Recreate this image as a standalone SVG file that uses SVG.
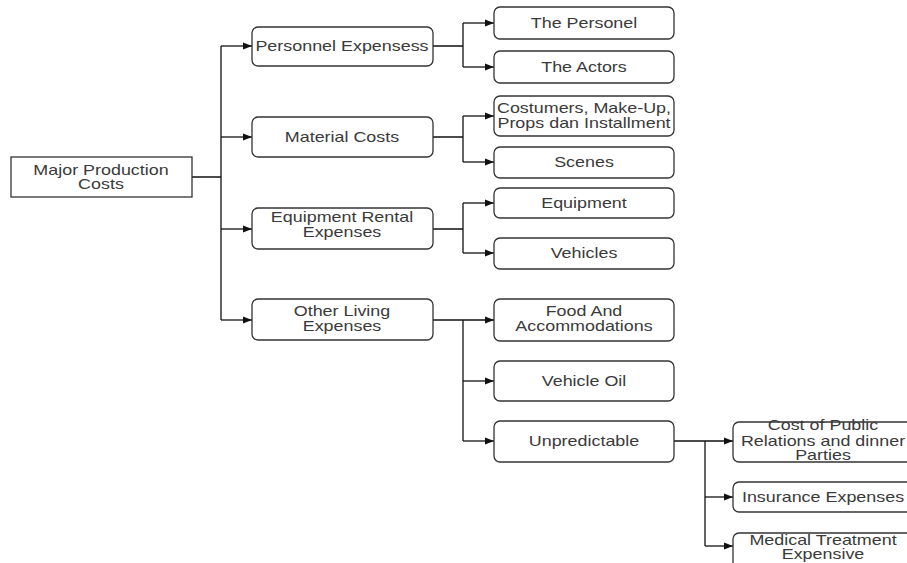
<svg xmlns="http://www.w3.org/2000/svg" width="907" height="563" viewBox="0 0 907 563">
<style>
.box{fill:#fff;stroke:#333;stroke-width:1.3}
.ln{fill:none;stroke:#111;stroke-width:1.3}
text{font-family:"Liberation Sans",Arial,sans-serif;font-size:14px;fill:#3a3a3a;text-anchor:middle}
</style>
<defs>
<marker id="ah" markerUnits="userSpaceOnUse" markerWidth="10" markerHeight="8" refX="9" refY="4" orient="auto">
<path d="M0,0.5 L9,4 L0,7.5 Z" fill="#111"/>
</marker>
</defs>
<g id="connectors">
<path class="ln" d="M192,177 H221 M221,46 V320"/>
<path class="ln" marker-end="url(#ah)" d="M221,46 H252"/>
<path class="ln" marker-end="url(#ah)" d="M221,137 H252"/>
<path class="ln" marker-end="url(#ah)" d="M221,229 H252"/>
<path class="ln" marker-end="url(#ah)" d="M221,320 H252"/>
<path class="ln" d="M433,46 H463 M463,23 V67"/>
<path class="ln" marker-end="url(#ah)" d="M463,23 H494"/>
<path class="ln" marker-end="url(#ah)" d="M463,67 H494"/>
<path class="ln" d="M433,137 H463 M463,116 V162"/>
<path class="ln" marker-end="url(#ah)" d="M463,116 H494"/>
<path class="ln" marker-end="url(#ah)" d="M463,162 H494"/>
<path class="ln" d="M433,229 H463 M463,203 V253"/>
<path class="ln" marker-end="url(#ah)" d="M463,203 H494"/>
<path class="ln" marker-end="url(#ah)" d="M463,253 H494"/>
<path class="ln" d="M463,320 V441"/>
<path class="ln" marker-end="url(#ah)" d="M433,320 H494"/>
<path class="ln" marker-end="url(#ah)" d="M463,381 H494"/>
<path class="ln" marker-end="url(#ah)" d="M463,441 H494"/>
<path class="ln" d="M705,441 V546"/>
<path class="ln" marker-end="url(#ah)" d="M674,441 H733"/>
<path class="ln" marker-end="url(#ah)" d="M705,497 H733"/>
<path class="ln" marker-end="url(#ah)" d="M705,546 H733"/>
</g>
<g id="major">
<rect class="box" x="11" y="157" width="181" height="40"/>
<text transform="translate(101,0) scale(1.28 1)" x="0" y="175">Major Production</text>
<text transform="translate(101,0) scale(1.28 1)" x="0" y="189">Costs</text>
</g>
<g id="personnel">
<rect class="box" x="252" y="27" width="181" height="39" rx="6"/>
<text transform="translate(342,0) scale(1.28 1)" x="0" y="51">Personnel Expensess</text>
</g>
<g id="material">
<rect class="box" x="252" y="117" width="181" height="40" rx="6"/>
<text transform="translate(342,0) scale(1.28 1)" x="0" y="142">Material Costs</text>
</g>
<g id="equiprental">
<rect class="box" x="252" y="208" width="181" height="41" rx="6"/>
<text transform="translate(342,0) scale(1.28 1)" x="0" y="222">Equipment Rental</text>
<text transform="translate(342,0) scale(1.28 1)" x="0" y="237">Expenses</text>
</g>
<g id="otherliving">
<rect class="box" x="252" y="299" width="181" height="41" rx="6"/>
<text transform="translate(342,0) scale(1.28 1)" x="0" y="316">Other Living</text>
<text transform="translate(342,0) scale(1.28 1)" x="0" y="331">Expenses</text>
</g>
<g id="personel">
<rect class="box" x="494" y="7" width="180" height="32" rx="6"/>
<text transform="translate(584,0) scale(1.28 1)" x="0" y="28">The Personel</text>
</g>
<g id="actors">
<rect class="box" x="494" y="51" width="180" height="32" rx="6"/>
<text transform="translate(584,0) scale(1.28 1)" x="0" y="72">The Actors</text>
</g>
<g id="costumers">
<rect class="box" x="494" y="96" width="180" height="40" rx="6"/>
<text transform="translate(584,0) scale(1.28 1)" x="0" y="113">Costumers, Make-Up,</text>
<text transform="translate(584,0) scale(1.28 1)" x="0" y="128">Props dan Installment</text>
</g>
<g id="scenes">
<rect class="box" x="494" y="147" width="180" height="31" rx="6"/>
<text transform="translate(584,0) scale(1.28 1)" x="0" y="167">Scenes</text>
</g>
<g id="equipment">
<rect class="box" x="494" y="188" width="180" height="30" rx="6"/>
<text transform="translate(584,0) scale(1.28 1)" x="0" y="208">Equipment</text>
</g>
<g id="vehicles">
<rect class="box" x="494" y="238" width="180" height="31" rx="6"/>
<text transform="translate(584,0) scale(1.28 1)" x="0" y="258">Vehicles</text>
</g>
<g id="food">
<rect class="box" x="494" y="299" width="180" height="42" rx="6"/>
<text transform="translate(584,0) scale(1.28 1)" x="0" y="316">Food And</text>
<text transform="translate(584,0) scale(1.28 1)" x="0" y="331">Accommodations</text>
</g>
<g id="vehicleoil">
<rect class="box" x="494" y="361" width="180" height="40" rx="6"/>
<text transform="translate(584,0) scale(1.28 1)" x="0" y="386">Vehicle Oil</text>
</g>
<g id="unpredictable">
<rect class="box" x="494" y="421" width="180" height="41" rx="6"/>
<text transform="translate(584,0) scale(1.28 1)" x="0" y="446">Unpredictable</text>
</g>
<g id="publicrelations">
<rect class="box" x="733" y="422" width="180" height="40" rx="6"/>
<text transform="translate(823,0) scale(1.28 1)" x="0" y="430">Cost of Public</text>
<text transform="translate(823,0) scale(1.28 1)" x="0" y="446">Relations and dinner</text>
<text transform="translate(823,0) scale(1.28 1)" x="0" y="460">Parties</text>
</g>
<g id="insurance">
<rect class="box" x="733" y="482" width="180" height="30" rx="6"/>
<text transform="translate(823,0) scale(1.28 1)" x="0" y="502">Insurance Expenses</text>
</g>
<g id="medical">
<rect class="box" x="733" y="533" width="180" height="40" rx="6"/>
<text transform="translate(823,0) scale(1.28 1)" x="0" y="545">Medical Treatment</text>
<text transform="translate(823,0) scale(1.28 1)" x="0" y="559">Expensive</text>
</g>
</svg>
